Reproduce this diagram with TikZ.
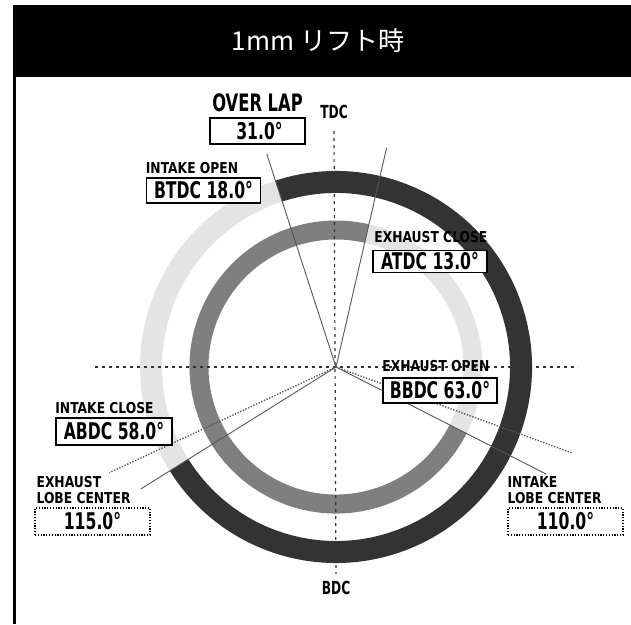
\documentclass[tikz,border=0pt]{standalone}
\usepackage{fontspec}
\newfontfamily\lblfont{DejaVu Sans}[FakeStretch=0.82]
\newfontfamily\valfont{DejaVu Sans}[FakeStretch=0.68]
\newfontfamily\jpfont{Noto Sans CJK JP}
\usetikzlibrary{positioning}
\definecolor{ringdark}{HTML}{333333}
\definecolor{ringmid}{HTML}{7F7F7F}
\definecolor{ringlight}{HTML}{E4E4E4}
\definecolor{linegray}{HTML}{555555}

\begin{document}
\begin{tikzpicture}[x=1pt, y=-1pt,
  lbl/.style={font=\lblfont\bfseries\fontsize{15}{16}\selectfont, inner sep=0pt, align=left},
  bigtxt/.style={font=\valfont\bfseries\fontsize{24}{24}\selectfont, inner sep=0pt},
  valbox/.style={draw, line width=1.6pt, fill=white,
    font=\valfont\bfseries\fontsize{23}{23}\selectfont,
    minimum width=114pt, minimum height=25pt, inner sep=2pt},
  lobebox/.style={draw, line width=1.2pt, dash pattern=on 1.2pt off 1.6pt, fill=white,
    font=\valfont\bfseries\fontsize{23}{23}\selectfont,
    minimum width=115pt, minimum height=27pt, inner sep=2pt},
  camline/.style={linegray, line width=0.9pt},
  lobeline/.style={linegray, line width=1.4pt, dash pattern=on 1.3pt off 1.6pt},
  axisline/.style={black!80, line width=1.2pt, dash pattern=on 3pt off 4pt}]
\useasboundingbox (0,0) rectangle (631,624);

% header
\fill[black] (13,5) rectangle (631,77);
\fill[black] (13,77) rectangle (16,624);
\node[text=white, font=\jpfont\fontsize{26}{26}\selectfont] (title) at (318,41) {1mm リフト時};

\coordinate (O) at (336,367);

% rings
\draw[ringlight, line width=22pt] (O) ++(148:185) arc[start angle=148, end angle=252, radius=185];
\draw[ringdark, line width=22pt] (O) ++(-108:185) arc[start angle=-108, end angle=148, radius=185];
\draw[ringlight, line width=19pt] (O) ++(-77:137) arc[start angle=-77, end angle=27, radius=137];
\draw[ringmid, line width=19pt] (O) ++(27:137) arc[start angle=27, end angle=283, radius=137];

% axes
\node[bigtxt, font=\valfont\bfseries\fontsize{18}{18}\selectfont] (tdc) at (334,112) {TDC};
\node[bigtxt, font=\valfont\bfseries\fontsize{18}{18}\selectfont] (bdc) at (336,588) {BDC};
\coordinate (hl) at (95,367);
\coordinate (hr) at (578,367);
\draw[axisline] ([yshift=-12pt]tdc.south) -- ([yshift=7pt]bdc.north);
\draw[axisline] (hl) -- (hr);

% valve timing lines
\path (O) ++(-108:224) coordinate (io);
\path (O) ++(-77:225) coordinate (ec);
\path (O) ++(27:236) coordinate (eo);
\path (O) ++(148:230) coordinate (ic);
\path (O) ++(155:250) coordinate (el);
\path (O) ++(20:252) coordinate (il);
\draw[camline] (O) -- (io);
\draw[camline] (O) -- (ec);
\draw[camline] (O) -- (eo);
\draw[camline] (O) -- (ic);
\draw[lobeline] (O) -- (el);
\draw[lobeline] (O) -- (il);

% labels
\node[valbox, minimum width=95pt, minimum height=26pt] (ovl) at (257.5,131) {\hspace{4pt}31.0°};
\node[bigtxt, above=5pt of ovl] (ovltxt) {OVER LAP};

\node[valbox] (iobox) at (203.5,190.5) {BTDC 18.0°};
\node[lbl, above=3pt of iobox.north west, anchor=south west] (iotxt) {INTAKE OPEN};

\node[valbox, minimum height=22pt] (ecbox) at (430,261.5) {ATDC 13.0°};
\node[lbl, above=7pt of ecbox.north west, anchor=south west, xshift=2pt] (ectxt) {EXHAUST CLOSE};

\node[valbox] (eobox) at (440,390.5) {BBDC 63.0°};
\node[lbl, above=5pt of eobox.north west, anchor=south west] (eotxt) {EXHAUST OPEN};

\node[valbox, minimum width=116pt, minimum height=27pt] (icbox) at (114,431.5) {ABDC 58.0°};
\node[lbl, above=3pt of icbox.north west, anchor=south west] (ictxt) {INTAKE CLOSE};

\node[lobebox] (elbox) at (92.5,521.5) {115.0°};
\node[lbl, above=3pt of elbox.north west, anchor=south west, xshift=2pt] (eltxt) {EXHAUST\\LOBE CENTER};

\node[lobebox] (ilbox) at (565.5,521.5) {110.0°};
\node[lbl, above=3pt of ilbox.north west, anchor=south west] (iltxt) {INTAKE\\LOBE CENTER};
\end{tikzpicture}
\end{document}
